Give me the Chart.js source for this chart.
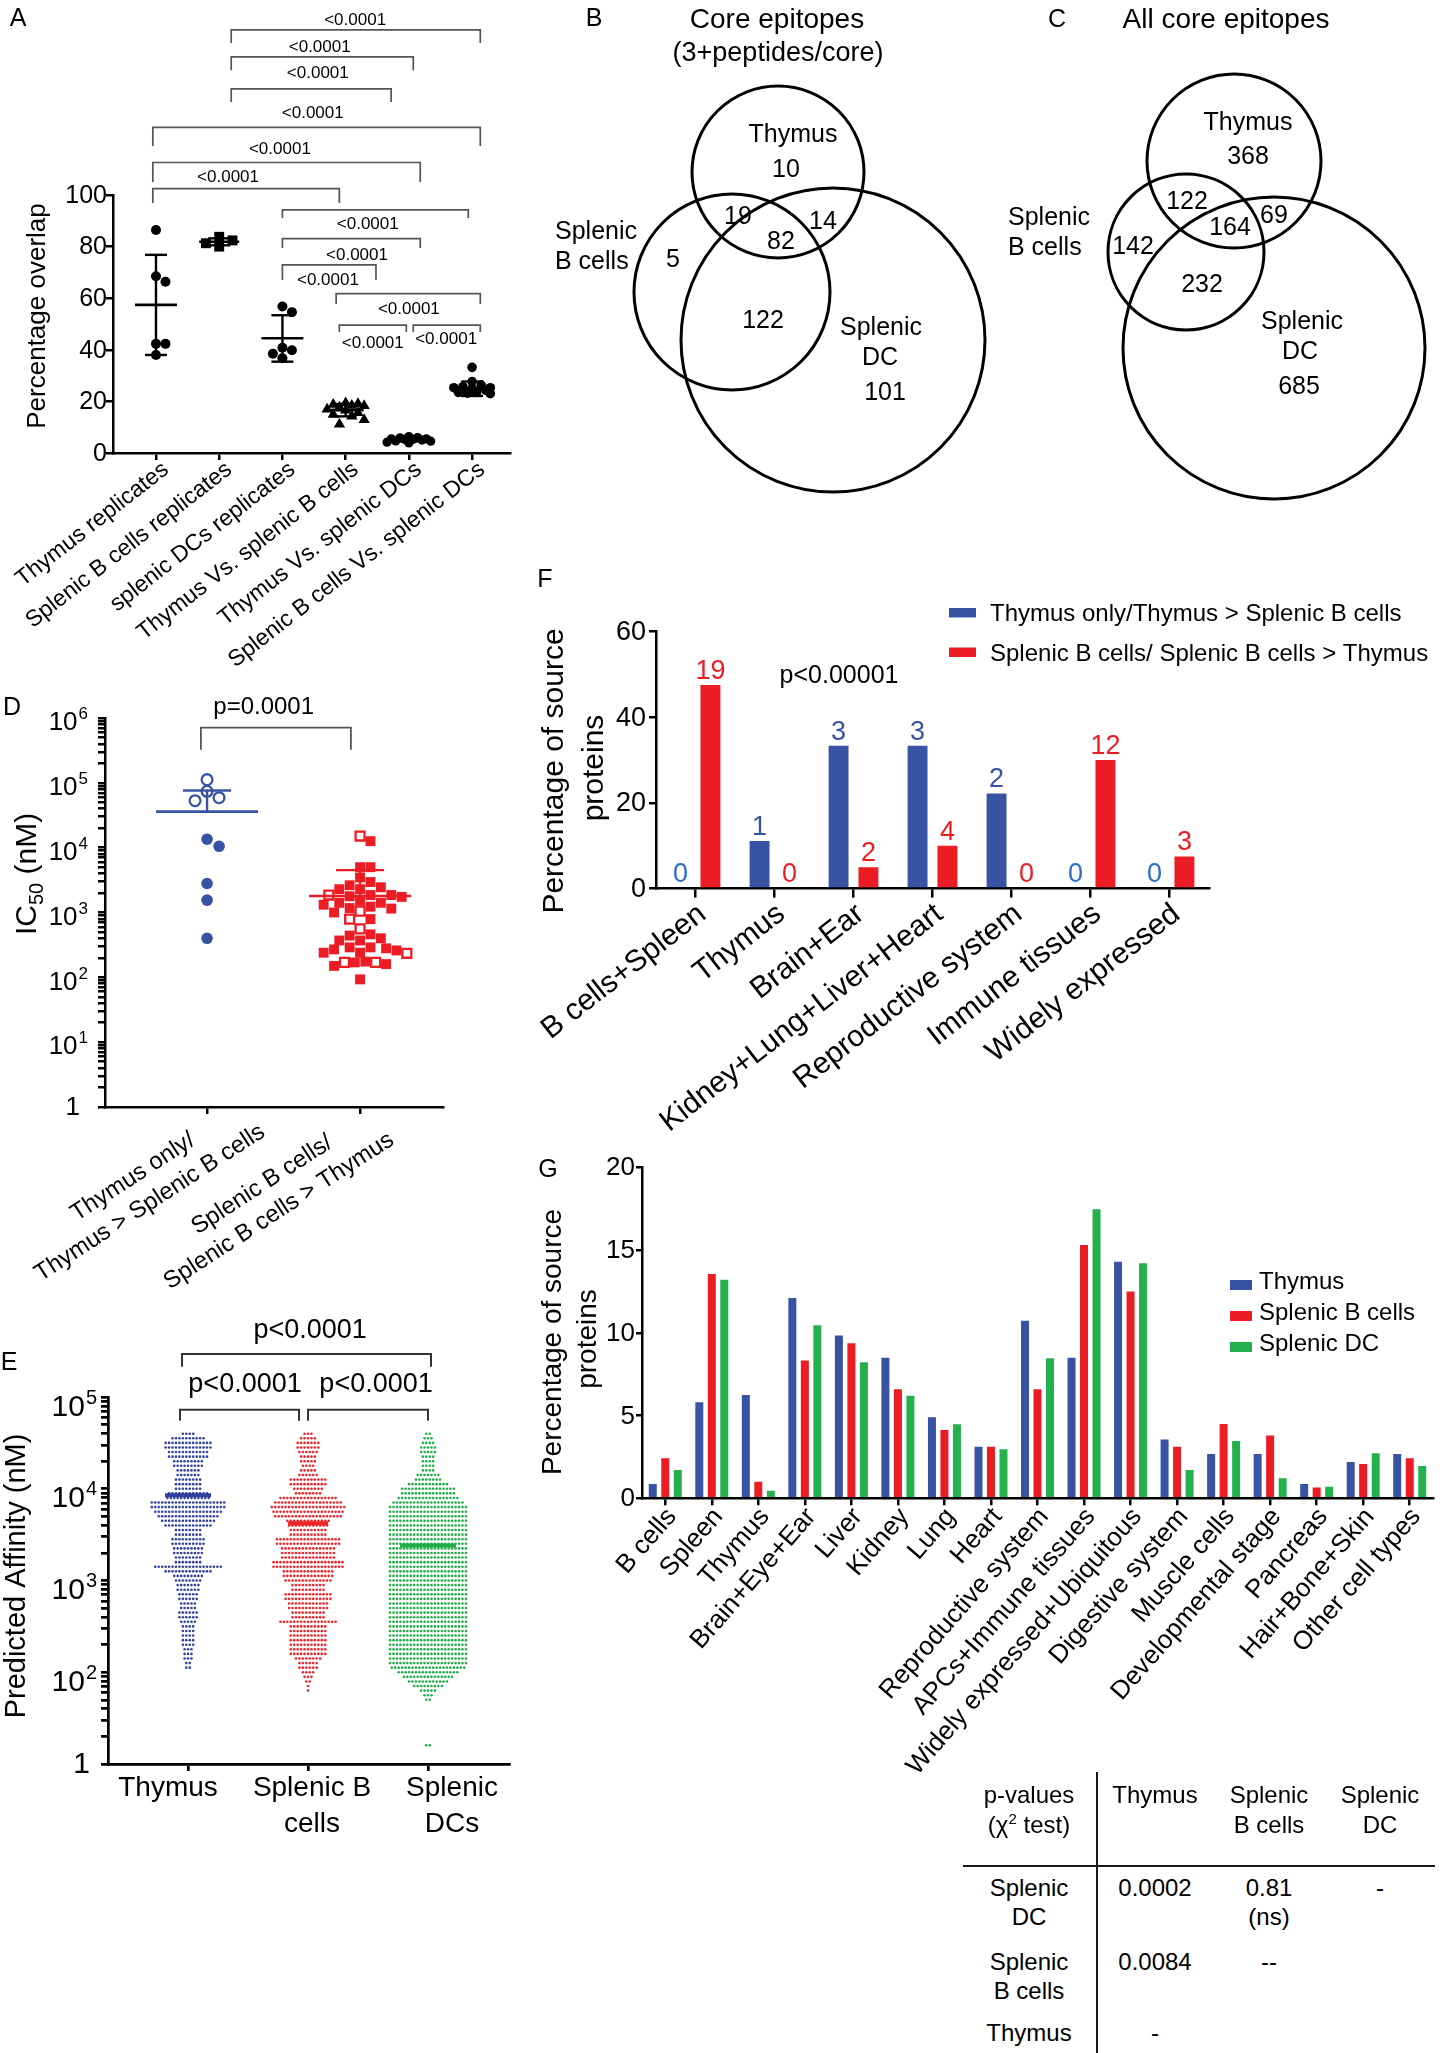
<!DOCTYPE html>
<html><head><meta charset="utf-8"><title>Figure</title>
<script src="https://cdn.jsdelivr.net/npm/chart.js@4.4.1/dist/chart.umd.min.js"></script>
<style>
html,body{margin:0;padding:0;background:#fff}
body{position:relative;width:1451px;height:2053px;overflow:hidden;font-family:'Liberation Sans',Arial,Helvetica,sans-serif;color:#000}
canvas{position:absolute}
.lbl{position:absolute;white-space:nowrap;line-height:1;transform:translate(-50%,-50%)}
.ln{position:absolute;background:#1a1a1a}
</style></head><body>
<canvas id="cA" width="540" height="690" style="left:0;top:0"></canvas>
<canvas id="cV" width="911" height="520" style="left:540px;top:0"></canvas>
<canvas id="cD" width="540" height="620" style="left:0;top:690px"></canvas>
<canvas id="cE" width="540" height="560" style="left:0;top:1310px"></canvas>
<canvas id="cF" width="931" height="575" style="left:520px;top:560px"></canvas>
<canvas id="cG" width="931" height="650" style="left:520px;top:1140px"></canvas>
<div id="html"></div>
<script>
// ===================== DATA =====================
// Panel A
const A_CATEGORIES=['Thymus replicates','Splenic B cells replicates','splenic DCs replicates','Thymus Vs. splenic B cells','Thymus Vs. splenic DCs','Splenic B cells Vs. splenic DCs'];
const A_THYMUS_REP=[86.4,68.5,66.4,42.3,42.3,38.0];
const A_SBC_REP=[83.8,82.4,81.3,80.0];
const A_SDC_REP=[56.8,54.6,40.8,39.8,38.5,36.7];
const A_T_VS_B=[19.4,19.1,18.8,18.4,18.3,17.7,17.0,16.6,15.6,14.9,14.2,12.9,11.1];
const A_T_VS_D=[6.4,6.0,5.9,5.5,5.5,5.3,5.3,5.0,4.7,4.6,4.2,3.9];
const A_B_VS_D=[33.2,27.7,26.3,25.7,25.3,25.3,24.9,24.3,23.5,23.5,23.2,23.0];
const A_MEAN=[57.4,81.9,44.5,16.6,5.2,24.9];
const A_SD_LOW=[38.0,80.5,35.4,14.2,4.5,22.1];
const A_SD_HIGH=[76.8,83.2,53.4,19.0,5.9,27.7];
const A_Y_TICKS=[0,20,40,60,80,100];
// brackets: [from, to, bar height, leg end, label x, label y] in axis units
const A_BRACKETS=[[1.19,5.13,164.0,158.9,3.15,167.8],[1.19,4.07,153.5,148.4,2.59,157.2],[1.19,3.72,141.1,136.0,2.56,147.3],[-0.05,5.13,126.2,119.0,2.48,131.6],[-0.05,4.18,112.6,105.0,1.96,117.8],[-0.05,2.90,102.5,96.9,1.14,106.7],[2.0,4.94,94.2,91.1,3.35,88.8],[2.0,4.18,83.1,79.5,3.18,76.7],[2.0,3.48,72.9,67.1,2.72,67.0],[2.85,5.13,61.8,57.8,4.0,55.8],[2.9,3.96,49.6,46.9,3.43,42.6],[4.07,5.13,49.6,46.9,4.59,44.2]];
const A_BRACKET_P=['<0.0001','<0.0001','<0.0001','<0.0001','<0.0001','<0.0001','<0.0001','<0.0001','<0.0001','<0.0001','<0.0001','<0.0001'];

// Panels B and C (Venn counts: T only, T∩B, T∩DC, T∩B∩DC, B only, B∩DC, DC only)
const VENN_B_COUNTS=[10,19,14,82,5,122,101];
const VENN_C_COUNTS=[368,122,69,164,142,232,685];

// Panel D (IC50, nM)
const D_CATEGORIES=[['Thymus only/','Thymus > Splenic B cells'],['Splenic B cells/','Splenic B cells > Thymus']];
const D_THY_FILLED=[13500,10500,2800,1550,400];
const D_THY_OPEN=[112000,74000,59000,53000];
const D_SBC_FILLED=[12600,5000,5000,3470,2950,2630,2450,2290,2290,1860,1780,1740,1860,1510,1410,1410,1320,1230,1170,1150,1000,790,460,440,400,370,370,290,290,280,270,260,240,240,175,170,160,150,93];
const D_SBC_OPEN=[15100,1860,1050,790,560,235,170,170];
const D_MEAN=[36000,1800];
const D_SD_HIGH=[76000,4500];
const D_Y_TICK_VALUES=[1,10,100,1000,10000,100000,1000000];
const D_Y_TICK_BASE=['1','10','10','10','10','10','10'];
const D_Y_TICK_EXP=['','1','2','3','4','5','6'];
const D_BRACKET={from:-0.04,to:0.94,top:708000,leg:324000,lx:0.37,ly:1450000,text:'p=0.0001'};

// Panel E (predicted affinity, nM): dot counts per row level (log10 nM)
const E_CATEGORIES=[['Thymus'],['Splenic B','cells'],['Splenic','DCs']];
const E_LOG_LEVELS=[4.60,4.55,4.50,4.45,4.40,4.35,4.30,4.25,4.20,4.15,4.10,4.05,4.00,3.95,3.90,3.85,3.80,3.75,3.70,3.65,3.60,3.55,3.50,3.45,3.40,3.35,3.30,3.25,3.20,3.15,3.10,3.05,3.00,2.95,2.90,2.85,2.80,2.75,2.70,2.65,2.60,2.55,2.50,2.45,2.40,2.35,2.30,2.25,2.20,2.15,2.10,2.05,2.00,1.95,1.90,1.85,1.80,1.75,1.70];
const E_THYMUS_COUNTS=[4,10,14,14,12,12,9,9,7,7,8,8,8,12,13,22,22,20,18,16,14,8,8,10,10,9,9,8,8,20,14,9,8,7,7,6,6,5,5,6,6,5,4,4,4,4,4,3,3,3,2,2,0,0,0,0,0,0,0];
const E_SBC_COUNTS=[3,5,7,7,6,5,5,4,5,6,11,11,9,8,17,20,22,21,20,13,12,11,11,19,19,16,16,16,21,21,15,15,14,10,10,14,14,12,12,10,10,17,11,11,11,11,11,11,11,8,6,6,4,3,2,1,1,0,0];
const E_SDC_COUNTS=[2,3,4,5,5,4,4,4,4,7,8,12,16,16,18,21,23,23,23,23,23,23,23,23,23,23,23,23,23,23,23,23,23,23,23,23,23,23,23,23,23,23,23,23,23,23,23,23,23,23,23,22,18,15,12,9,5,3,2];
const E_SDC_OUTLIERS=[16,16];
const E_MEDIANS=[8500,4200,2400];
const E_Y_TICK_VALUES=[10,100,1000,10000,100000];
const E_Y_TICK_BASE=['1','10','10','10','10'];
const E_Y_TICK_EXP=['','2','3','4','5'];
// [from, to, bar, leg end]
const E_BRACKETS=[[-0.05,2.025,295000,214000],[-0.067,0.925,72400,55000],[1.0,2.0,72400,55000]];
const E_BRACKET_LABELS=[[1.017,525000,'p<0.0001'],[0.475,135000,'p<0.0001'],[1.567,135000,'p<0.0001']];

// Panel F
const F_CATEGORIES=['B cells+Spleen','Thymus','Brain+Ear','Kidney+Lung+Liver+Heart','Reproductive system','Immune tissues','Widely expressed'];
const F_THYMUS_PCT=[0,11.1,33.3,33.3,22.2,0,0];
const F_SBC_PCT=[47.5,0,5,10,0,30,7.5];
const F_THYMUS_N=[0,1,3,3,2,0,0];
const F_SBC_N=[19,0,2,4,0,12,3];
const F_Y_TICKS=[0,20,40,60];
const F_SERIES=['Thymus only/Thymus > Splenic B cells','Splenic B cells/ Splenic B cells > Thymus'];
const F_P='p<0.00001';

// Panel G
const G_CATEGORIES=['B cells','Spleen','Thymus','Brain+Eye+Ear','Liver','Kidney','Lung','Heart','Reproductive system','APCs+Immune tissues','Widely expressed+Ubiquitous','Digestive system','Muscle cells','Developmental stage','Pancreas','Hair+Bone+Skin','Other cell types'];
const G_THYMUS=[0.87,5.8,6.24,12.1,9.83,8.5,4.9,3.12,10.73,8.5,14.3,3.56,2.68,2.68,0.87,2.2,2.68];
const G_SBC=[2.42,13.55,1.0,8.32,9.37,6.59,4.13,3.12,6.59,15.3,12.5,3.12,4.49,3.8,0.66,2.07,2.42];
const G_SDC=[1.71,13.2,0.46,10.45,8.22,6.2,4.47,2.96,8.46,17.46,14.2,1.71,3.46,1.21,0.7,2.72,1.95];
const G_SERIES=['Thymus','Splenic B cells','Splenic DC'];
const G_Y_TICKS=[0,5,10,15,20];

// Table
const TABLE_HEADER=[['p-values','(χ<sup>2</sup> test)'],['Thymus'],['Splenic','B cells'],['Splenic','DC']];
const TABLE_ROWS=[[['Splenic','DC'],['0.0002'],['0.81','(ns)'],['-']],[['Splenic','B cells'],['0.0084'],['--'],[]],[['Thymus'],['-'],[],[]]];

// ===================== STYLE / LAYOUT =====================
const BLUE='#3953a4', RED='#ec1c24', GREEN='#22b14c';
const FONT="'Liberation Sans', Arial, Helvetica, sans-serif";
Chart.defaults.font.family=FONT;
Chart.defaults.color='#000';

function pad(f){return {left:0,top:f.y0-f.T,right:(f.L+f.W)-f.x1,bottom:0};}
function baseOpts(f){return {responsive:false,maintainAspectRatio:false,animation:false,events:[],
  layout:{autoPadding:false,padding:pad(f)},plugins:{legend:{display:false},tooltip:{enabled:false}}};}
function gridOpt(tl,lw){return {display:true,drawOnChartArea:false,drawTicks:true,tickLength:tl,color:'#000',lineWidth:lw,offset:false};}
function xAxis(f,o){return Object.assign({position:'bottom',ticks:{display:false},grid:gridOpt(o.tl||7,o.lw||2.5),
  border:{display:true,color:'#000',width:o.lw||2.5},afterFit:s=>{s.height=(f.T+f.H)-f.y1;}},o.extra||{});}
function yAxis(f,o){return Object.assign({position:'left',ticks:{display:false},grid:gridOpt(o.tl||7,o.lw||2.5),
  border:{display:true,color:'#000',width:o.lw||2.5},afterFit:s=>{s.width=f.x0-f.L;}},o.extra||{});}
function tickList(vals){return ()=>vals.map(v=>({value:v}));}
function logTicks(min,max){const t=[];for(let d=Math.round(Math.log10(min));d<Math.round(Math.log10(max));d++){for(let k=1;k<10;k++)t.push({value:k*Math.pow(10,d)});}t.push({value:max});return t;}

function drawText(ctx,s,x,y,px,opt){opt=opt||{};ctx.save();ctx.font=px+'px '+FONT;ctx.fillStyle=opt.color||'#000';
  ctx.textAlign=opt.align||'center';ctx.textBaseline=opt.base||'middle';
  if(opt.rot){ctx.translate(x,y);ctx.rotate(-opt.rot*Math.PI/180);ctx.fillText(s,0,0);}else ctx.fillText(s,x,y);ctx.restore();}
function drawPath(ctx,pts,color,lw){ctx.save();ctx.strokeStyle=color;ctx.lineWidth=lw;ctx.lineCap='butt';ctx.lineJoin='miter';
  ctx.beginPath();pts.forEach((p,i)=>i?ctx.lineTo(p[0],p[1]):ctx.moveTo(p[0],p[1]));ctx.stroke();ctx.restore();}
function drawPow(ctx,base,exp,xRight,yMid,bpx,epx,rise){ctx.save();ctx.fillStyle='#000';ctx.textBaseline='alphabetic';
  ctx.font=epx+'px '+FONT;const we=ctx.measureText(exp).width;
  ctx.font=bpx+'px '+FONT;ctx.textAlign='right';const bl=yMid+bpx*0.358;ctx.fillText(base,xRight-we-1,bl);
  ctx.font=epx+'px '+FONT;ctx.textAlign='left';ctx.fillText(exp,xRight-we,bl-rise);ctx.restore();}
function bracket(ctx,xa,xb,yt,yl,color,lw){drawPath(ctx,[[xa,yl],[xa,yt],[xb,yt],[xb,yl]],color,lw);}

// beeswarm layout: horizontal offsets (px) so markers don't overlap
function swarmOffsets(ys,minDist,step,maxHalf){
  const idx=ys.map((_,i)=>i).sort((a,b)=>ys[a]-ys[b]);const placed=[];const off=new Array(ys.length).fill(0);
  const n=Math.floor(maxHalf/step);
  for(const i of idx){let best=0,bestD=-1;
    for(let k=0;k<=2*n;k++){const c=k===0?0:(k%2?1:-1)*Math.ceil(k/2)*step;let md=Infinity;
      for(const p of placed){const d=Math.hypot(p.x-c,p.y-ys[i]);if(d<md)md=d;}
      if(md>=minDist){best=c;bestD=md;break;}if(md>bestD){bestD=md;best=c;}}
    off[i]=best;placed.push({x:best,y:ys[i]});}
  return off;}
// row layout for the dense dot plots: each row's dots centred on the category
function rowsToPoints(levels,counts,cx,spacing){const pts=[];levels.forEach((lv,i)=>{const n=counts[i];
  for(let k=0;k<n;k++)pts.push({x:cx+(k-(n-1)/2)*spacing,y:Math.pow(10,lv)});});return pts;}

// ===================== PANEL A =====================
const FA={L:0,T:0,W:540,H:690,x0:113,y0:195,x1:510,y1:453};
const A_XMIN=-0.68,A_XMAX=5.60;
const A_MEAN_HALF=[21,20,21,18,18,20];
(function(){
  const pxX=(FA.x1-FA.x0)/(A_XMAX-A_XMIN), pxY=(FA.y1-FA.y0)/100;
  const groups=[{v:A_THYMUS_REP,s:'circle',r:5},{v:A_SBC_REP,s:'rect',r:7},{v:A_SDC_REP,s:'circle',r:5},
    {v:A_T_VS_B,s:'triangle',r:6.5},{v:A_T_VS_D,s:'circle',r:4.6},{v:A_B_VS_D,s:'circle',r:4.8}];
  const datasets=groups.map((g,i)=>{const off=swarmOffsets(g.v.map(v=>-v*pxY),g.r*1.7,g.r*0.95,22);
    return {data:g.v.map((v,j)=>({x:i+off[j]/pxX,y:v})),pointStyle:g.s,pointRadius:g.r,pointBackgroundColor:'#000',pointBorderColor:'#000',pointBorderWidth:0};});
  const o=baseOpts(FA);
  o.scales={x:xAxis(FA,{tl:7,extra:{type:'linear',min:A_XMIN,max:A_XMAX,afterBuildTicks:s=>{s.ticks=A_CATEGORIES.map((_,i)=>({value:i}));}}}),
            y:yAxis(FA,{tl:7,extra:{type:'linear',min:0,max:100,afterBuildTicks:s=>{s.ticks=tickList(A_Y_TICKS)();}}})};
  new Chart(document.getElementById('cA'),{type:'scatter',data:{datasets},options:o,plugins:[{id:'aDeco',
    afterDatasetsDraw(ch){const c=ch.ctx,sx=ch.scales.x,sy=ch.scales.y;
      A_MEAN.forEach((m,i)=>{const x=sx.getPixelForValue(i),ym=sy.getPixelForValue(m),yl=sy.getPixelForValue(A_SD_LOW[i]),yh=sy.getPixelForValue(A_SD_HIGH[i]);const h=A_MEAN_HALF[i];
        drawPath(c,[[x-h,ym],[x+h,ym]],'#000',2.6);drawPath(c,[[x,yl],[x,yh]],'#000',2.4);
        drawPath(c,[[x-11,yh],[x+11,yh]],'#000',2.4);drawPath(c,[[x-11,yl],[x+11,yl]],'#000',2.4);});},
    afterDraw(ch){const c=ch.ctx,sx=ch.scales.x,sy=ch.scales.y,ca=ch.chartArea;
      A_Y_TICKS.forEach(v=>drawText(c,String(v),ca.left-6,sy.getPixelForValue(v)+1,25,{align:'right'}));
      A_CATEGORIES.forEach((l,i)=>drawText(c,l,sx.getPixelForValue(i)+10,ca.bottom+14,23,{align:'right',rot:38}));
      drawText(c,'Percentage overlap',38-FA.L,316-FA.T,26,{rot:90});
      A_BRACKETS.forEach((b,i)=>{bracket(c,sx.getPixelForValue(b[0]),sx.getPixelForValue(b[1]),sy.getPixelForValue(b[2]),sy.getPixelForValue(b[3]),'#555',1.7);
        drawText(c,A_BRACKET_P[i],sx.getPixelForValue(b[4]),sy.getPixelForValue(b[5]),17);});}}]});
})();

// ===================== PANELS B, C (Venn) =====================
const FV={L:540,T:0,W:911,H:520};
const VENN_LAYOUT=[
  {circles:[[778,172,86],[732,292,98],[833,340,152]],
   counts:[[786,170],[738,217],[823,222],[781,242],[673,260],[763,321],[885,393]],
   names:[['Thymus',793,135,'center'],['Splenic',555,232,'left'],['B cells',555,262,'left'],['Splenic',881,328,'center'],['DC',880,358,'center']]},
  {circles:[[1234,161,87],[1186,252,78],[1274,348,151]],
   counts:[[1248,157],[1187,202],[1274,216],[1230,228],[1133,247],[1202,285],[1299,387]],
   names:[['Thymus',1248,123,'center'],['Splenic',1008,218,'left'],['B cells',1008,248,'left'],['Splenic',1302,322,'center'],['DC',1300,352,'center']]}];
(function(){
  const circles=VENN_LAYOUT[0].circles.concat(VENN_LAYOUT[1].circles).map(c=>({x:c[0],y:c[1],r:c[2]}));
  new Chart(document.getElementById('cV'),{type:'bubble',
    data:{datasets:[{data:circles,backgroundColor:'rgba(0,0,0,0)',borderColor:'#000',borderWidth:3,clip:false}]},
    options:{responsive:false,animation:false,events:[],layout:{autoPadding:false,padding:0},
      plugins:{legend:{display:false},tooltip:{enabled:false}},
      scales:{x:{type:'linear',display:false,min:FV.L,max:FV.L+FV.W},y:{type:'linear',display:false,min:FV.T,max:FV.T+FV.H,reverse:true}}},
    plugins:[{id:'vennText',afterDraw(ch){const c=ch.ctx,sx=ch.scales.x,sy=ch.scales.y;
      [VENN_B_COUNTS,VENN_C_COUNTS].forEach((cnt,k)=>{const L=VENN_LAYOUT[k];
        cnt.forEach((n,i)=>drawText(c,String(n),sx.getPixelForValue(L.counts[i][0]),sy.getPixelForValue(L.counts[i][1]),25));
        L.names.forEach(nm=>drawText(c,nm[0],sx.getPixelForValue(nm[1]),sy.getPixelForValue(nm[2]),25,{align:nm[3]}));});}}]});
})();

// ===================== PANEL D =====================
const FD={L:0,T:690,W:540,H:620,x0:105,y0:718,x1:443,y1:1107};
const D_XMIN=-0.667,D_XMAX=1.542;
const D_XLABEL_ANCHOR=[[-74,70],[-98,78]];
(function(){
  const pxX=(FD.x1-FD.x0)/(D_XMAX-D_XMIN), pxDec=(FD.y1-FD.y0)/6;
  function lay(filled,open,cx,minD,step,half){const all=filled.concat(open);const off=swarmOffsets(all.map(v=>-Math.log10(v)*pxDec),minD,step,half);
    return [filled.map((v,j)=>({x:cx+off[j]/pxX,y:v})),open.map((v,j)=>({x:cx+off[filled.length+j]/pxX,y:v}))];}
  const [bf,bo]=lay(D_THY_FILLED,D_THY_OPEN,0,11.5,6,30);
  const [rf,ro]=lay(D_SBC_FILLED,D_SBC_OPEN,1,10.2,5.2,48);
  const datasets=[
    {data:bf,pointStyle:'circle',pointRadius:5.8,pointBackgroundColor:BLUE,pointBorderColor:BLUE,pointBorderWidth:0},
    {data:bo,pointStyle:'circle',pointRadius:5.4,pointBackgroundColor:'#fff',pointBorderColor:BLUE,pointBorderWidth:2.3},
    {data:rf,pointStyle:'rect',pointRadius:7,pointBackgroundColor:RED,pointBorderColor:RED,pointBorderWidth:0},
    {data:ro,pointStyle:'rect',pointRadius:6.3,pointBackgroundColor:'#fff',pointBorderColor:RED,pointBorderWidth:2.3}];
  const o=baseOpts(FD);
  o.scales={x:xAxis(FD,{tl:7,extra:{type:'linear',min:D_XMIN,max:D_XMAX,afterBuildTicks:s=>{s.ticks=[{value:0},{value:1}];}}}),
            y:yAxis(FD,{tl:7,extra:{type:'logarithmic',min:1,max:1e6,afterBuildTicks:s=>{s.ticks=logTicks(1,1e6);}}})};
  new Chart(document.getElementById('cD'),{type:'scatter',data:{datasets},options:o,plugins:[{id:'dDeco',
    afterDatasetsDraw(ch){const c=ch.ctx,sx=ch.scales.x,sy=ch.scales.y;
      D_MEAN.forEach((m,i)=>{const x=sx.getPixelForValue(i),ym=sy.getPixelForValue(m),yh=sy.getPixelForValue(D_SD_HIGH[i]);const col=i?RED:BLUE;
        drawPath(c,[[x-51,ym],[x+51,ym]],col,2.6);drawPath(c,[[x,ym],[x,yh]],col,2.4);drawPath(c,[[x-24,yh],[x+24,yh]],col,2.4);});},
    afterDraw(ch){const c=ch.ctx,sx=ch.scales.x,sy=ch.scales.y,ca=ch.chartArea;
      D_Y_TICK_VALUES.forEach((v,i)=>{const y=sy.getPixelForValue(v);
        if(D_Y_TICK_EXP[i])drawPow(c,D_Y_TICK_BASE[i],D_Y_TICK_EXP[i],ca.left-17,y+3,26,17,11);
        else drawText(c,D_Y_TICK_BASE[i],ca.left-25,y+1,26,{align:'right'});});
      // y title IC50 (nM)
      c.save();c.translate(25-FD.L,874-FD.T);c.rotate(-Math.PI/2);c.fillStyle='#000';c.textBaseline='alphabetic';c.textAlign='left';
      c.font='30px '+FONT;const w1=c.measureText('IC').width,w3=c.measureText(' (nM)').width;c.font='20px '+FONT;const w2=c.measureText('50').width;
      let u=-(w1+w2+w3)/2;c.font='30px '+FONT;c.fillText('IC',u,11);u+=w1;c.font='20px '+FONT;c.fillText('50',u,18);u+=w2;c.font='30px '+FONT;c.fillText(' (nM)',u,11);c.restore();
      // x labels (two centred lines, rotated)
      D_CATEGORIES.forEach((lines,i)=>{const ax=sx.getPixelForValue(i)+D_XLABEL_ANCHOR[i][0],ay=ca.bottom+D_XLABEL_ANCHOR[i][1];
        c.save();c.translate(ax,ay);c.rotate(-33*Math.PI/180);c.font='24px '+FONT;c.fillStyle='#000';c.textAlign='center';c.textBaseline='middle';
        lines.forEach((l,j)=>c.fillText(l,0,j*31));c.restore();});
      const b=D_BRACKET;bracket(c,sx.getPixelForValue(b.from),sx.getPixelForValue(b.to),sy.getPixelForValue(b.top),sy.getPixelForValue(b.leg),'#555',1.8);
      drawText(c,b.text,sx.getPixelForValue(b.lx),sy.getPixelForValue(b.ly),24);}}]});
})();

// ===================== PANEL E =====================
const FE={L:0,T:1310,W:540,H:560,x0:108,y0:1397,x1:509,y1:1764};
const E_XMIN=-0.667,E_XMAX=2.675;
const E_MEDIAN_HALF=[23,20,28];
const E_XLABEL_SHIFT=[-20,4,24];
(function(){
  const pxX=(FE.x1-FE.x0)/(E_XMAX-E_XMIN);const sp=3.45/pxX;
  const cols=['#30409c','#ee2229','#20ad48'];
  const outl=[Math.log10(E_SDC_OUTLIERS[0])];
  const datasets=[E_THYMUS_COUNTS,E_SBC_COUNTS,E_SDC_COUNTS].map((cnt,i)=>({data:rowsToPoints(E_LOG_LEVELS,cnt,i,sp),pointRadius:1.3,pointBackgroundColor:cols[i],pointBorderWidth:0}));
  datasets.push({data:rowsToPoints(outl,[E_SDC_OUTLIERS.length],2,sp),pointRadius:1.3,pointBackgroundColor:cols[2],pointBorderWidth:0});
  const o=baseOpts(FE);
  o.scales={x:xAxis(FE,{tl:7,lw:2.7,extra:{type:'linear',min:E_XMIN,max:E_XMAX,afterBuildTicks:s=>{s.ticks=[{value:0},{value:1},{value:2}];}}}),
            y:yAxis(FE,{tl:7,lw:2.7,extra:{type:'logarithmic',min:10,max:1e5,afterBuildTicks:s=>{s.ticks=logTicks(10,1e5);}}})};
  new Chart(document.getElementById('cE'),{type:'scatter',data:{datasets},options:o,plugins:[{id:'eDeco',
    afterDatasetsDraw(ch){const c=ch.ctx,sx=ch.scales.x,sy=ch.scales.y;
      E_MEDIANS.forEach((m,i)=>{const x=sx.getPixelForValue(i),y=sy.getPixelForValue(m);drawPath(c,[[x-E_MEDIAN_HALF[i],y],[x+E_MEDIAN_HALF[i],y]],cols[i],4);});},
    afterDraw(ch){const c=ch.ctx,sx=ch.scales.x,sy=ch.scales.y,ca=ch.chartArea;
      E_Y_TICK_VALUES.forEach((v,i)=>{const y=sy.getPixelForValue(v);
        if(E_Y_TICK_EXP[i])drawPow(c,E_Y_TICK_BASE[i],E_Y_TICK_EXP[i],ca.left-11,y+8,30,20,12);
        else drawText(c,E_Y_TICK_BASE[i],ca.left-18,y+1,30,{align:'right'});});
      drawText(c,'Predicted Affinity (nM)',17-FE.L,1576-FE.T,29,{rot:90});
      E_CATEGORIES.forEach((lines,i)=>lines.forEach((l,j)=>drawText(c,l,sx.getPixelForValue(i)+E_XLABEL_SHIFT[i],ca.bottom+24+j*36,28)));
      E_BRACKETS.forEach(b=>bracket(c,sx.getPixelForValue(b[0]),sx.getPixelForValue(b[1]),sy.getPixelForValue(b[2]),sy.getPixelForValue(b[3]),'#333',2));
      E_BRACKET_LABELS.forEach(b=>drawText(c,b[2],sx.getPixelForValue(b[0]),sy.getPixelForValue(b[1]),27));}}]});
})();

// ===================== PANEL F =====================
const FF={L:520,T:560,W:931,H:575,x0:656,y0:631.4,x1:1209,y1:888.6};
(function(){
  const o=baseOpts(FF);
  o.scales={x:xAxis(FF,{tl:9,extra:{type:'category',offset:true}}),
            y:yAxis(FF,{tl:7,extra:{type:'linear',min:0,max:60,afterBuildTicks:s=>{s.ticks=tickList(F_Y_TICKS)();}}})};
  new Chart(document.getElementById('cF'),{type:'bar',data:{labels:F_CATEGORIES,datasets:[
      {data:F_THYMUS_PCT,backgroundColor:BLUE,categoryPercentage:0.756,barPercentage:0.667},
      {data:F_SBC_PCT,backgroundColor:RED,categoryPercentage:0.756,barPercentage:0.667}]},options:o,
    plugins:[{id:'fDeco',afterDraw(ch){const c=ch.ctx,sx=ch.scales.x,sy=ch.scales.y,ca=ch.chartArea;
      const counts=[F_THYMUS_N,F_SBC_N],colors=['#3953a4',RED];
      [0,1].forEach(d=>ch.getDatasetMeta(d).data.forEach((bar,i)=>{const n=counts[d][i];
        const col=(d===0&&n===0)?'#2a6fc0':colors[d];
        drawText(c,String(n),bar.x,Math.min(bar.y,ca.bottom-1)-6,27,{base:'alphabetic',color:col});}));
      F_Y_TICKS.forEach(v=>drawText(c,String(v),ca.left-10,sy.getPixelForValue(v)+1,27,{align:'right'}));
      F_CATEGORIES.forEach((l,i)=>drawText(c,l,sx.getPixelForValue(i)+7,ca.bottom+22,30,{align:'right',rot:38}));
      drawText(c,'Percentage of source',555-FF.L,771-FF.T,30,{rot:90});
      drawText(c,'proteins',595-FF.L,768-FF.T,30,{rot:90});
      drawText(c,F_P,839-FF.L,676-FF.T,25);
      const lg=[[BLUE,612.5],[RED,652]];
      lg.forEach((g,i)=>{c.save();c.fillStyle=g[0];c.fillRect(949-FF.L,g[1]-4.5-FF.T,27,9.5);c.restore();
        drawText(c,F_SERIES[i],990-FF.L,g[1]+2-FF.T,24,{align:'left'});});}}]});
})();

// ===================== PANEL G =====================
const FG={L:520,T:1140,W:931,H:650,x0:642,y0:1167.3,x1:1433,y1:1498.3};
(function(){
  const o=baseOpts(FG);
  o.scales={x:xAxis(FG,{tl:7,extra:{type:'category',offset:true}}),
            y:yAxis(FG,{tl:6,extra:{type:'linear',min:0,max:20,afterBuildTicks:s=>{s.ticks=tickList(G_Y_TICKS)();}}})};
  const cp=0.806,bp=0.64;
  new Chart(document.getElementById('cG'),{type:'bar',data:{labels:G_CATEGORIES,datasets:[
      {data:G_THYMUS,backgroundColor:BLUE,categoryPercentage:cp,barPercentage:bp},
      {data:G_SBC,backgroundColor:RED,categoryPercentage:cp,barPercentage:bp},
      {data:G_SDC,backgroundColor:GREEN,categoryPercentage:cp,barPercentage:bp}]},options:o,
    plugins:[{id:'gDeco',afterDraw(ch){const c=ch.ctx,sx=ch.scales.x,sy=ch.scales.y,ca=ch.chartArea;
      G_Y_TICKS.forEach(v=>drawText(c,String(v),ca.left-7,sy.getPixelForValue(v)+1,26,{align:'right'}));
      G_CATEGORIES.forEach((l,i)=>drawText(c,l,sx.getPixelForValue(i)+6.5,ca.bottom+14,26,{align:'right',rot:49}));
      drawText(c,'Percentage of source',553-FG.L,1342-FG.T,28,{rot:90});
      drawText(c,'proteins',588-FG.L,1339-FG.T,28,{rot:90});
      const lg=[[BLUE,1285],[RED,1316],[GREEN,1347]];
      lg.forEach((g,i)=>{c.save();c.fillStyle=g[0];c.fillRect(1230-FG.L,g[1]-5-FG.T,22,10);c.restore();
        drawText(c,G_SERIES[i],1259-FG.L,g[1]-3-FG.T,24,{align:'left'});});}}]});
})();

// ===================== HTML TEXT (panel letters, titles, table) =====================
(function(){
  const h=[];
  function lbl(html,x,y,px){h.push('<div class="lbl" style="left:'+x+'px;top:'+y+'px;font-size:'+px+'px">'+html+'</div>');}
  [['A',18,17],['B',594,17],['C',1057,18],['D',12,706],['E',9,1361],['F',545,578],['G',548,1168]].forEach(p=>lbl(p[0],p[1],p[2],25));
  lbl('Core epitopes',777,19,28);lbl('(3+peptides/core)',778,52,27);lbl('All core epitopes',1226,19,28);
  const colX=[1029,1155,1269,1380];
  TABLE_HEADER.forEach((lines,k)=>lines.forEach((l,j)=>lbl(l,colX[k],1795+j*30,24)));
  const rowY=[1888,1962,2033];
  TABLE_ROWS.forEach((row,r)=>row.forEach((cell,k)=>cell.forEach((l,j)=>lbl(l,colX[k],rowY[r]+j*29,24))));
  h.push('<div class="ln" style="left:1096px;top:1772px;width:2px;height:281px"></div>');
  h.push('<div class="ln" style="left:963px;top:1865px;width:472px;height:2px"></div>');
  document.getElementById('html').innerHTML=h.join('');
  document.querySelectorAll('sup').forEach(s=>{s.style.fontSize='15px';s.style.verticalAlign='9px';s.style.lineHeight='0';});
})();
</script></body></html>
